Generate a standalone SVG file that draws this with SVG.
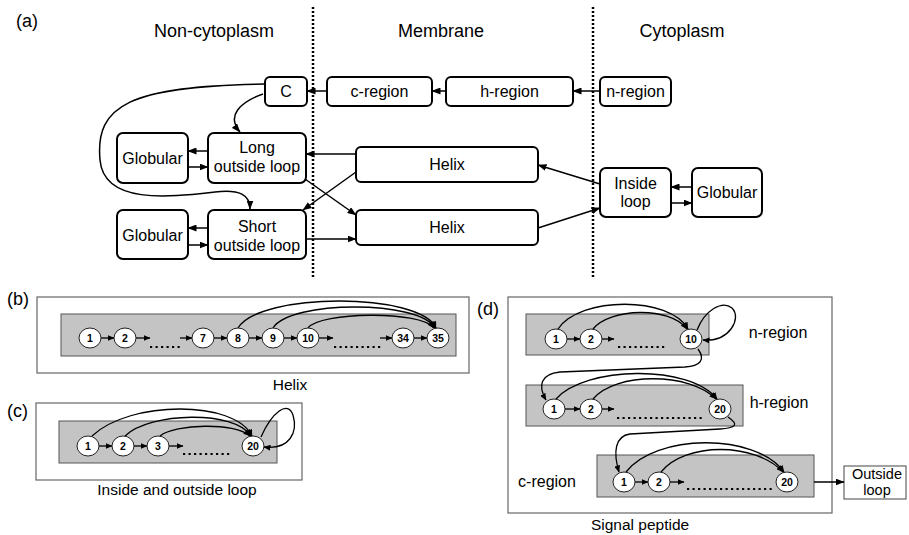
<svg xmlns="http://www.w3.org/2000/svg" width="909" height="535" viewBox="0 0 909 535">
<defs>
<marker id="ah" markerWidth="9" markerHeight="7" refX="8.5" refY="3.5" orient="auto" markerUnits="userSpaceOnUse"><path d="M0,0 L9,3.5 L0,7 z" fill="#000"/></marker>
<marker id="as" markerWidth="7" markerHeight="6" refX="6.5" refY="3" orient="auto" markerUnits="userSpaceOnUse"><path d="M0,0 L7,3 L0,6 z" fill="#000"/></marker>
</defs>
<style>
text{font-family:"Liberation Sans",Arial,sans-serif;fill:#000}
.hd{font-size:18px}
.mid{text-anchor:middle}
.bl{font-size:16px;text-anchor:middle}
.cap{font-size:15.5px;text-anchor:middle}
.ol{font-size:14.5px;text-anchor:middle}
.num{font-size:10.5px;font-weight:bold;text-anchor:middle}
.box{fill:#fff;stroke:#000;stroke-width:2}
.sep{stroke:#000;stroke-width:2.5;stroke-dasharray:2 2;fill:none}
.c{fill:none;stroke:#000;stroke-width:1.5}
.ca{fill:none;stroke:#000;stroke-width:1.5;marker-end:url(#ah)}
.sa{fill:none;stroke:#000;stroke-width:1.3;marker-end:url(#as)}
.outer{fill:#fff;stroke:#666;stroke-width:1.2}
.gray{fill:#c4c4c4;stroke:#555;stroke-width:1}
.circ{fill:#fff;stroke:#222;stroke-width:1}
.dots{stroke:#000;stroke-width:2.2;stroke-dasharray:2.2 3.3;fill:none}
</style>

<!-- Panel (a) -->
<text class="hd" x="16" y="27">(a)</text>
<text class="hd mid" x="214" y="37">Non-cytoplasm</text>
<text class="hd mid" x="441" y="37">Membrane</text>
<text class="hd mid" x="682" y="37">Cytoplasm</text>
<line class="sep" x1="313" y1="7" x2="313" y2="278"/>
<line class="sep" x1="593" y1="7" x2="593" y2="278"/>

<g id="a-C"><rect class="box" x="265" y="77" width="42" height="29" rx="5"/><text class="bl" x="286" y="97">C</text></g>
<g id="a-cregion"><rect class="box" x="327" y="77" width="105" height="29" rx="5"/><text class="bl" x="379.5" y="97">c-region</text></g>
<g id="a-hregion"><rect class="box" x="446" y="77" width="127" height="29" rx="5"/><text class="bl" x="509.5" y="97">h-region</text></g>
<g id="a-nregion"><rect class="box" x="600" y="77" width="71" height="29" rx="5"/><text class="bl" x="635.5" y="97">n-region</text></g>
<g id="a-glob1"><rect class="box" x="117" y="133" width="71" height="50" rx="6"/><text class="bl" x="152.5" y="164">Globular</text></g>
<g id="a-long"><rect class="box" x="208" y="133" width="98" height="50" rx="6"/><text class="bl" x="257" y="153">Long</text><text class="bl" x="257" y="172">outside loop</text></g>
<g id="a-glob2"><rect class="box" x="117" y="210" width="71" height="49" rx="6"/><text class="bl" x="152.5" y="241">Globular</text></g>
<g id="a-short"><rect class="box" x="208" y="210" width="98" height="49" rx="6"/><text class="bl" x="257" y="232">Short</text><text class="bl" x="257" y="251">outside loop</text></g>
<g id="a-helix1"><rect class="box" x="356" y="147" width="182" height="35" rx="5"/><text class="bl" x="447" y="170">Helix</text></g>
<g id="a-helix2"><rect class="box" x="356" y="210" width="182" height="35" rx="5"/><text class="bl" x="447" y="233">Helix</text></g>
<g id="a-inside"><rect class="box" x="600" y="168" width="71" height="49" rx="6"/><text class="bl" x="635.5" y="189">Inside</text><text class="bl" x="635.5" y="207">loop</text></g>
<g id="a-glob3"><rect class="box" x="692" y="168" width="70" height="49" rx="6"/><text class="bl" x="727" y="198">Globular</text></g>

<g id="a-connectors">
<line class="ca" x1="600" y1="91" x2="573" y2="91"/>
<line class="ca" x1="446" y1="91" x2="432" y2="91"/>
<line class="ca" x1="327" y1="91" x2="307" y2="91"/>
<path class="ca" d="M263,94 C240,102 226,116 240,132"/>
<path class="ca" d="M265,84 C130,86 95,105 100,160 C104,205 170,197 215,192 C240,189 250,195 250,209"/>
<line class="ca" x1="208" y1="151" x2="188" y2="151"/>
<line class="ca" x1="188" y1="167" x2="208" y2="167"/>
<line class="ca" x1="208" y1="228" x2="188" y2="228"/>
<line class="ca" x1="188" y1="245" x2="208" y2="245"/>
<line class="ca" x1="356" y1="154" x2="306" y2="154"/>
<line class="ca" x1="306" y1="239" x2="356" y2="239"/>
<line class="ca" x1="305" y1="179" x2="356" y2="215"/>
<line class="ca" x1="356" y1="172" x2="303" y2="210"/>
<line class="ca" x1="600" y1="184" x2="538" y2="165"/>
<line class="ca" x1="538" y1="228" x2="600" y2="208"/>
<line class="ca" x1="692" y1="187" x2="671" y2="187"/>
<line class="ca" x1="671" y1="203" x2="692" y2="203"/>
</g>

<!-- Panel (b) -->
<text class="hd" x="7" y="305">(b)</text>
<rect class="outer" x="37" y="297" width="432" height="76"/>
<rect class="gray" x="61" y="314" width="395" height="42"/>
<text class="cap" x="290" y="390">Helix</text>
<g id="b-connectors">
<line class="sa" x1="101" y1="338" x2="114" y2="338"/>
<line class="sa" x1="136" y1="338" x2="150" y2="338"/>
<line class="sa" x1="180" y1="338" x2="192" y2="338"/>
<line class="sa" x1="214" y1="338" x2="227" y2="338"/>
<line class="sa" x1="249" y1="338" x2="262" y2="338"/>
<line class="sa" x1="284" y1="338" x2="297" y2="338"/>
<line class="sa" x1="319" y1="338" x2="333" y2="338"/>
<line class="sa" x1="380" y1="338" x2="392" y2="338"/>
<line class="sa" x1="414" y1="338" x2="427" y2="338"/>
<path class="sa" d="M238,328 C260,292 420,292 436,328"/>
<path class="sa" d="M273,328 C290,300 420,300 435,328"/>
<path class="sa" d="M308,328 C320,312 420,310 434,328"/>
</g>
<line class="dots" x1="150" y1="347" x2="181" y2="347"/>
<line class="dots" x1="334" y1="347" x2="381" y2="347"/>
<g id="b-1"><ellipse class="circ" cx="90" cy="338" rx="11" ry="10"/><text class="num" x="90" y="342">1</text></g>
<g id="b-2"><ellipse class="circ" cx="125" cy="338" rx="11" ry="10"/><text class="num" x="125" y="342">2</text></g>
<g id="b-7"><ellipse class="circ" cx="203" cy="338" rx="11" ry="10"/><text class="num" x="203" y="342">7</text></g>
<g id="b-8"><ellipse class="circ" cx="238" cy="338" rx="11" ry="10"/><text class="num" x="238" y="342">8</text></g>
<g id="b-9"><ellipse class="circ" cx="273" cy="338" rx="11" ry="10"/><text class="num" x="273" y="342">9</text></g>
<g id="b-10"><ellipse class="circ" cx="308" cy="338" rx="11" ry="10"/><text class="num" x="308" y="342">10</text></g>
<g id="b-34"><ellipse class="circ" cx="403" cy="338" rx="11" ry="10"/><text class="num" x="403" y="342">34</text></g>
<g id="b-35"><ellipse class="circ" cx="438" cy="338" rx="11" ry="10"/><text class="num" x="438" y="342">35</text></g>

<!-- Panel (c) -->
<text class="hd" x="7" y="417">(c)</text>
<rect class="outer" x="36" y="403" width="266" height="77"/>
<rect class="gray" x="59" y="421" width="218" height="42"/>
<text class="cap" x="177" y="495">Inside and outside loop</text>
<g id="c-connectors">
<line class="sa" x1="99" y1="446" x2="112" y2="446"/>
<line class="sa" x1="134" y1="446" x2="147" y2="446"/>
<line class="sa" x1="169" y1="446" x2="183" y2="446"/>
<path class="sa" d="M92,436 C130,400 235,400 252,436"/>
<path class="sa" d="M125,436 C150,412 235,410 251,436"/>
<path class="sa" d="M160,436 C175,424 235,422 250,436"/>
<path class="sa" d="M261,437 C272,412 288,400 293,415 C298,432 290,450 264,447"/>
</g>
<line class="dots" x1="183" y1="454" x2="232" y2="454"/>
<g id="c-1"><ellipse class="circ" cx="88" cy="446" rx="11" ry="10"/><text class="num" x="88" y="450">1</text></g>
<g id="c-2"><ellipse class="circ" cx="123" cy="446" rx="11" ry="10"/><text class="num" x="123" y="450">2</text></g>
<g id="c-3"><ellipse class="circ" cx="158" cy="446" rx="11" ry="10"/><text class="num" x="158" y="450">3</text></g>
<g id="c-20"><ellipse class="circ" cx="253" cy="446" rx="11" ry="10"/><text class="num" x="253" y="450">20</text></g>

<!-- Panel (d) -->
<text class="hd" x="477" y="315">(d)</text>
<rect class="outer" x="508" y="297" width="324" height="216"/>
<rect class="gray" x="526" y="314" width="183" height="41"/>
<rect class="gray" x="526" y="385" width="217" height="41"/>
<rect class="gray" x="597" y="455" width="217" height="42"/>
<text class="bl" x="778" y="338">n-region</text>
<text class="bl" x="779" y="408">h-region</text>
<text class="bl" x="547" y="487">c-region</text>
<text class="cap" x="640" y="530">Signal peptide</text>
<g id="d-outside"><rect x="844" y="466" width="62" height="33" fill="#fff" stroke="#444" stroke-width="1"/><text class="ol" x="877" y="479">Outside</text><text class="ol" x="877" y="495">loop</text></g>
<g id="d-connectors">
<line class="sa" x1="567" y1="339" x2="580" y2="339"/>
<line class="sa" x1="602" y1="339" x2="614" y2="339"/>
<path class="sa" d="M558,329 C580,296 670,296 688,329"/>
<path class="sa" d="M593,329 C610,308 670,306 687,329"/>
<path class="sa" d="M697,330 C705,310 722,300 732,308 C742,318 730,342 703,340"/>
<path class="sa" d="M698,349 C706,360 700,366 685,367 L560,372 C540,374 538,386 546,400"/>
<line class="sa" x1="565" y1="409" x2="580" y2="409"/>
<line class="sa" x1="602" y1="409" x2="614" y2="409"/>
<path class="sa" d="M556,399 C585,366 690,364 717,399"/>
<path class="sa" d="M593,399 C615,372 690,372 716,399"/>
<path class="sa" d="M728,417 C740,425 735,428 720,429 L630,434 C615,436 613,452 619,472"/>
<line class="sa" x1="635" y1="482" x2="648" y2="482"/>
<line class="sa" x1="670" y1="482" x2="684" y2="482"/>
<path class="sa" d="M626,472 C655,434 755,432 784,472"/>
<path class="sa" d="M661,472 C685,442 755,442 783,472"/>
<line class="ca" x1="814" y1="482" x2="844" y2="482"/>
</g>
<line class="dots" x1="618" y1="347" x2="667" y2="347"/>
<line class="dots" x1="617" y1="418" x2="703" y2="418"/>
<line class="dots" x1="687" y1="489" x2="774" y2="489"/>
<g id="dn-1"><ellipse class="circ" cx="556" cy="339" rx="11" ry="10"/><text class="num" x="556" y="343">1</text></g>
<g id="dn-2"><ellipse class="circ" cx="591" cy="339" rx="11" ry="10"/><text class="num" x="591" y="343">2</text></g>
<g id="dn-10"><ellipse class="circ" cx="691" cy="339" rx="11" ry="10"/><text class="num" x="691" y="343">10</text></g>
<g id="dh-1"><ellipse class="circ" cx="554" cy="409" rx="11" ry="10"/><text class="num" x="554" y="413">1</text></g>
<g id="dh-2"><ellipse class="circ" cx="591" cy="409" rx="11" ry="10"/><text class="num" x="591" y="413">2</text></g>
<g id="dh-20"><ellipse class="circ" cx="720" cy="409" rx="11" ry="10"/><text class="num" x="720" y="413">20</text></g>
<g id="dc-1"><ellipse class="circ" cx="624" cy="482" rx="11" ry="10"/><text class="num" x="624" y="486">1</text></g>
<g id="dc-2"><ellipse class="circ" cx="659" cy="482" rx="11" ry="10"/><text class="num" x="659" y="486">2</text></g>
<g id="dc-20"><ellipse class="circ" cx="787" cy="482" rx="11" ry="10"/><text class="num" x="787" y="486">20</text></g>
</svg>
